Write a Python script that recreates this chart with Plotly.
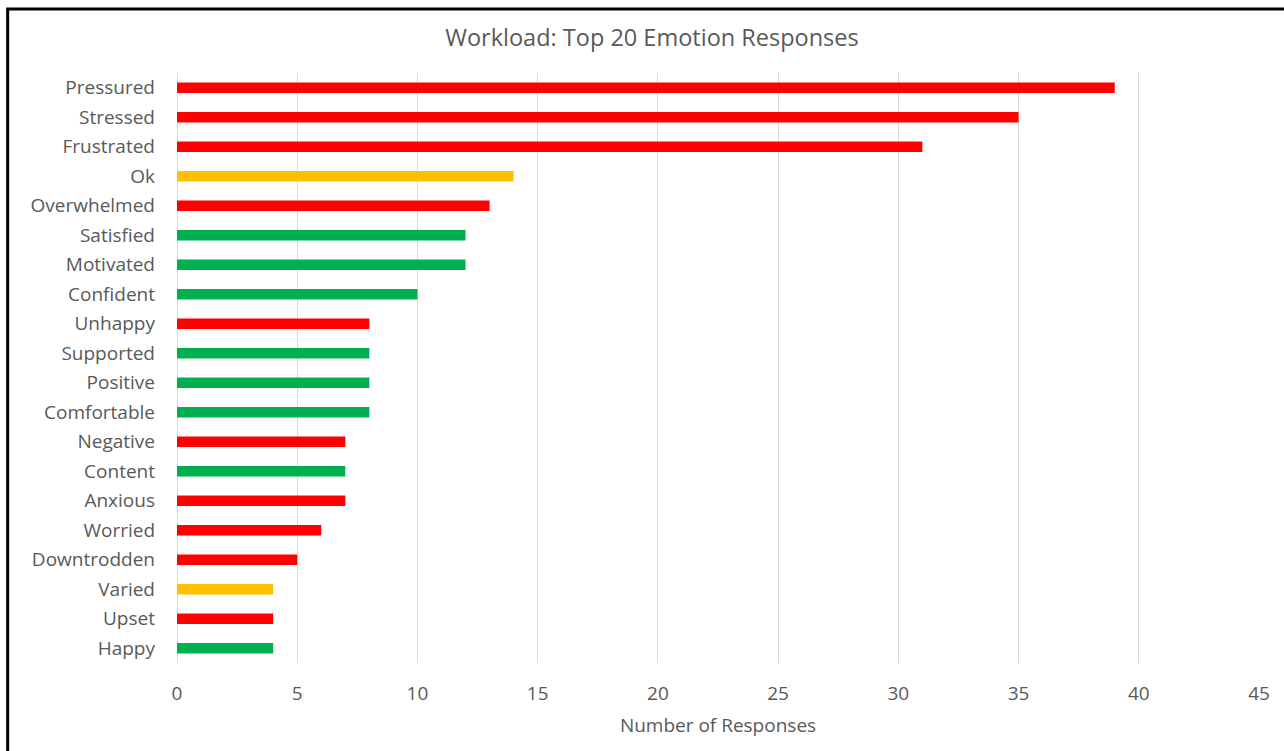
import plotly.graph_objects as go

# Emotion responses, highest first
emotions = ["Pressured", "Stressed", "Frustrated", "Ok", "Overwhelmed", "Satisfied",
            "Motivated", "Confident", "Unhappy", "Supported", "Positive", "Comfortable",
            "Negative", "Content", "Anxious", "Worried", "Downtrodden", "Varied",
            "Upset", "Happy"]
counts = [39, 35, 31, 14, 13, 12, 12, 10, 8, 8, 8, 8, 7, 7, 7, 6, 5, 4, 4, 4]
sentiment = ["neg", "neg", "neg", "neu", "neg", "pos", "pos", "pos", "neg", "pos",
             "pos", "pos", "neg", "pos", "neg", "neg", "neg", "neu", "neg", "pos"]
x_ticks = [0, 5, 10, 15, 20, 25, 30, 35, 40, 45]

palette = {"neg": "#FF0000", "neu": "#FFC000", "pos": "#00B050"}
bar_colors = [palette[s] for s in sentiment]

font_family = "Open Sans, Segoe UI, Liberation Sans, sans-serif"
grey = "#595959"

fig = go.Figure(go.Bar(
    x=counts,
    y=emotions,
    orientation="h",
    width=0.36,
    marker=dict(color=bar_colors, line=dict(width=0)),
    hoverinfo="x+y",
))

fig.update_layout(
    width=1284,
    height=751,
    paper_bgcolor="white",
    plot_bgcolor="white",
    margin=dict(l=177, r=25, t=73, b=88),
    showlegend=False,
    title=dict(
        text="Workload: Top 20 Emotion Responses",
        x=652 / 1284, xref="container", xanchor="center",
        y=1 - 38 / 751, yref="container", yanchor="middle",
        font=dict(family=font_family, size=23.5, color=grey),
    ),
    font=dict(family=font_family, color=grey),
    bargap=0.64,
    shapes=[dict(
        type="rect", xref="paper", yref="paper",
        x0=-0.1565, x1=1.2, y0=-0.4, y1=1.1085,
        line=dict(color="black", width=3),
        fillcolor="rgba(0,0,0,0)", layer="above",
    )],
)

fig.update_xaxes(
    range=[0, 45],
    tickvals=x_ticks,
    ticktext=[str(v) for v in x_ticks],
    showgrid=True,
    gridcolor="#D9D9D9",
    gridwidth=1,
    zeroline=True,
    zerolinecolor="#D9D9D9",
    zerolinewidth=1,
    showline=False,
    ticks="",
    ticklabelstandoff=17,
    tickfont=dict(size=19, color=grey),
    title=dict(text="Number of Responses", font=dict(size=19, color=grey), standoff=13),
)

fig.update_yaxes(
    categoryorder="array",
    categoryarray=emotions,
    autorange="reversed",
    showgrid=False,
    showline=False,
    ticks="",
    ticklabelstandoff=21,
    tickfont=dict(size=19, color=grey),
)

fig.write_html("out.html")
